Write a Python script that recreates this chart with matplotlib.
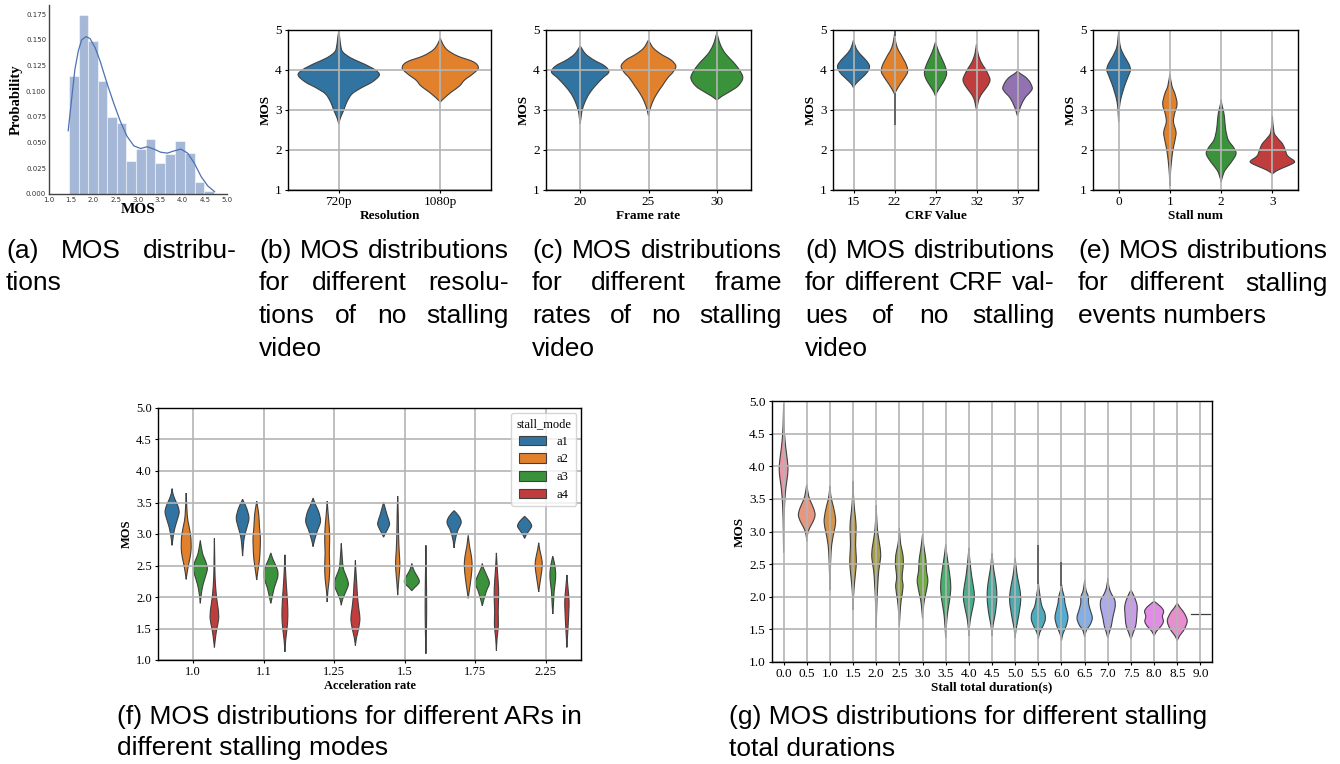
import numpy as np
import matplotlib
matplotlib.use("Agg")
import matplotlib.pyplot as plt
from matplotlib.path import Path
from matplotlib.patches import PathPatch, Patch
from matplotlib.transforms import IdentityTransform
import seaborn as sns

# ---------------- data ----------------
# (a) histogram of MOS
a_bin_edges = [1.446, 1.665, 1.876, 2.095, 2.31, 2.52, 2.74, 2.96, 3.17, 3.39,
               3.61, 3.83, 4.05, 4.27, 4.49, 4.70]
a_probability = [0.1144, 0.1747, 0.1493, 0.1102, 0.0746, 0.0691, 0.0323, 0.0440,
                 0.0535, 0.0300, 0.0388, 0.0515, 0.0401, 0.0117, 0.0029]
a_kde_x = [1.431, 1.507, 1.582, 1.658, 1.733, 1.832, 1.922, 2.036, 2.149, 2.30,
           2.452, 2.603, 2.754, 2.906, 3.057, 3.208, 3.359, 3.509, 3.66, 3.813,
           3.964, 4.115, 4.266, 4.418, 4.569, 4.72]
a_kde_y = [0.0616, 0.0919, 0.1213, 0.1392, 0.150, 0.1532, 0.1513, 0.1425, 0.1294,
           0.1082, 0.0887, 0.0707, 0.0561, 0.0469, 0.0443, 0.046, 0.0437, 0.0407,
           0.0398, 0.042, 0.0437, 0.0398, 0.030, 0.017, 0.0078, 0.0023]

# violin outlines: MOS levels (y) and half-widths (w, category units)
b_categories = ["720p", "1080p"]
b_violin_y = [[2.65, 2.8, 3.0, 3.2, 3.4, 3.55, 3.7, 3.87, 4.0, 4.15, 4.3, 4.45, 4.6, 4.8, 4.97],
              [3.2, 3.3, 3.45, 3.6, 3.75, 3.9, 4.05, 4.2, 4.35, 4.5, 4.65, 4.8]]
b_violin_w = [[0, 0.016, 0.05, 0.08, 0.13, 0.22, 0.33, 0.40, 0.36, 0.25, 0.12, 0.04, 0.02, 0.01, 0],
              [0, 0.04, 0.11, 0.19, 0.24, 0.32, 0.375, 0.33, 0.17, 0.07, 0.025, 0]]

c_categories = ["20", "25", "30"]
c_violin_y = [[2.65, 2.85, 3.0, 3.2, 3.4, 3.6, 3.8, 3.95, 4.1, 4.25, 4.4, 4.6],
              [2.85, 3.0, 3.2, 3.4, 3.6, 3.8, 3.95, 4.1, 4.25, 4.4, 4.55, 4.75],
              [3.25, 3.35, 3.45, 3.6, 3.8, 4.0, 4.2, 4.4, 4.6, 4.8, 4.95]]
c_violin_w = [[0, 0.015, 0.03, 0.07, 0.13, 0.22, 0.33, 0.42, 0.36, 0.2, 0.08, 0],
              [0, 0.02, 0.06, 0.12, 0.2, 0.28, 0.36, 0.40, 0.33, 0.18, 0.07, 0],
              [0, 0.08, 0.18, 0.31, 0.38, 0.33, 0.24, 0.13, 0.06, 0.02, 0]]

d_categories = ["15", "22", "27", "32", "37"]
d_violin_y = [[3.55, 3.65, 3.8, 3.95, 4.1, 4.25, 4.4, 4.55, 4.75],
              [3.4, 3.5, 3.65, 3.8, 3.95, 4.1, 4.25, 4.4, 4.55, 4.75, 4.9],
              [3.35, 3.45, 3.6, 3.75, 3.9, 4.05, 4.25, 4.45, 4.6, 4.7],
              [3.0, 3.15, 3.3, 3.45, 3.6, 3.75, 3.9, 4.05, 4.2, 4.4, 4.65],
              [2.85, 2.95, 3.1, 3.3, 3.45, 3.55, 3.7, 3.82, 3.9, 3.97]]
d_violin_w = [[0, 0.05, 0.2, 0.34, 0.39, 0.3, 0.16, 0.06, 0],
              [0, 0.05, 0.14, 0.24, 0.32, 0.3, 0.23, 0.15, 0.07, 0.02, 0],
              [0, 0.04, 0.13, 0.22, 0.27, 0.25, 0.17, 0.08, 0.03, 0],
              [0, 0.03, 0.07, 0.16, 0.27, 0.33, 0.28, 0.2, 0.11, 0.04, 0],
              [0, 0.03, 0.08, 0.18, 0.31, 0.36, 0.3, 0.2, 0.08, 0]]
d_whisker = {1: [(2.62, 3.42), (4.85, 5.0)]}

e_categories = ["0", "1", "2", "3"]
e_violin_y = [[2.7, 2.95, 3.2, 3.45, 3.65, 3.85, 4.0, 4.15, 4.35, 4.55, 4.75, 4.95],
              [1.1, 1.4, 1.7, 2.0, 2.25, 2.45, 2.7, 2.9, 3.15, 3.4, 3.6, 3.9],
              [1.2, 1.35, 1.5, 1.7, 1.9, 2.05, 2.25, 2.5, 2.75, 2.95, 3.1, 3.25],
              [1.4, 1.47, 1.55, 1.65, 1.72, 1.85, 2.0, 2.15, 2.3, 2.45, 2.85]]
e_violin_w = [[0, 0.01, 0.03, 0.08, 0.13, 0.19, 0.23, 0.2, 0.11, 0.04, 0.015, 0],
              [0, 0.01, 0.03, 0.06, 0.1, 0.12, 0.07, 0.09, 0.14, 0.1, 0.04, 0],
              [0, 0.03, 0.08, 0.2, 0.29, 0.25, 0.14, 0.09, 0.07, 0.05, 0.02, 0],
              [0, 0.07, 0.2, 0.38, 0.43, 0.3, 0.25, 0.2, 0.1, 0.03, 0]]

f_categories = ["1.0", "1.1", "1.25", "1.5", "1.75", "2.25"]
f_hues = ["a1", "a2", "a3", "a4"]
f_violin_y = [
    [[2.82, 2.95, 3.1, 3.25, 3.35, 3.45, 3.55, 3.65, 3.72],
     [2.28, 2.4, 2.55, 2.7, 2.85, 3.0, 3.15, 3.3, 3.65],
     [1.9, 2.05, 2.2, 2.35, 2.45, 2.55, 2.7, 2.9],
     [1.2, 1.35, 1.5, 1.65, 1.8, 2.0, 2.3, 2.6, 2.93]],
    [[2.65, 2.8, 2.95, 3.1, 3.25, 3.4, 3.5, 3.55],
     [2.27, 2.4, 2.6, 2.8, 2.95, 3.1, 3.3, 3.45, 3.52],
     [1.9, 2.0, 2.15, 2.3, 2.4, 2.5, 2.6, 2.7],
     [1.13, 1.3, 1.5, 1.7, 1.95, 2.2, 2.45, 2.67]],
    [[2.8, 2.9, 3.05, 3.2, 3.35, 3.45, 3.57],
     [1.92, 2.1, 2.3, 2.5, 2.7, 2.9, 3.1, 3.3, 3.52],
     [1.87, 1.97, 2.1, 2.2, 2.3, 2.45, 2.6, 2.85],
     [1.23, 1.35, 1.5, 1.65, 1.8, 2.0, 2.2, 2.4, 2.58]],
    [[2.95, 3.02, 3.12, 3.18, 3.3, 3.42, 3.5],
     [2.03, 2.2, 2.4, 2.55, 2.75, 3.0, 3.3, 3.6],
     [2.1, 2.15, 2.22, 2.28, 2.38, 2.45, 2.53],
     [1.1, 1.4, 1.7, 2.0, 2.3, 2.6, 2.82]],
    [[2.78, 2.9, 3.05, 3.18, 3.28, 3.37],
     [1.98, 2.1, 2.3, 2.5, 2.65, 2.8, 2.98],
     [1.86, 1.95, 2.1, 2.22, 2.35, 2.45, 2.53],
     [1.15, 1.35, 1.55, 1.75, 1.95, 2.15, 2.4, 2.7]],
    [[2.93, 3.0, 3.08, 3.13, 3.2, 3.28],
     [2.08, 2.2, 2.35, 2.5, 2.62, 2.75, 2.86],
     [1.73, 1.9, 2.1, 2.3, 2.45, 2.55, 2.65],
     [1.2, 1.4, 1.6, 1.8, 1.95, 2.15, 2.35]],
]
f_violin_w = [
    [[0, 0.015, 0.04, 0.08, 0.1, 0.08, 0.04, 0.01, 0],
     [0, 0.015, 0.04, 0.065, 0.07, 0.06, 0.035, 0.015, 0],
     [0, 0.015, 0.04, 0.08, 0.1, 0.08, 0.03, 0],
     [0, 0.015, 0.035, 0.06, 0.055, 0.03, 0.01, 0.005, 0]],
    [[0, 0.01, 0.025, 0.06, 0.09, 0.06, 0.02, 0],
     [0, 0.015, 0.04, 0.05, 0.052, 0.04, 0.03, 0.01, 0],
     [0, 0.02, 0.05, 0.095, 0.1, 0.07, 0.03, 0],
     [0, 0.01, 0.03, 0.042, 0.035, 0.02, 0.008, 0]],
    [[0, 0.02, 0.06, 0.105, 0.08, 0.04, 0],
     [0, 0.01, 0.03, 0.035, 0.03, 0.035, 0.03, 0.015, 0],
     [0, 0.02, 0.07, 0.1, 0.08, 0.03, 0.015, 0],
     [0, 0.015, 0.045, 0.064, 0.05, 0.03, 0.02, 0.008, 0]],
    [[0, 0.03, 0.075, 0.083, 0.05, 0.02, 0],
     [0, 0.01, 0.025, 0.03, 0.02, 0.012, 0.008, 0],
     [0, 0.04, 0.1, 0.1, 0.05, 0.02, 0],
     [0, 0.006, 0.01, 0.01, 0.007, 0.003, 0]],
    [[0, 0.015, 0.05, 0.1, 0.07, 0],
     [0, 0.015, 0.04, 0.055, 0.045, 0.02, 0],
     [0, 0.02, 0.06, 0.1, 0.06, 0.02, 0],
     [0, 0.01, 0.028, 0.025, 0.03, 0.03, 0.015, 0]],
    [[0, 0.03, 0.08, 0.1, 0.07, 0],
     [0, 0.015, 0.035, 0.05, 0.04, 0.015, 0],
     [0, 0.01, 0.02, 0.04, 0.035, 0.02, 0],
     [0, 0.01, 0.02, 0.028, 0.03, 0.015, 0]],
]

g_categories = ["0.0", "0.5", "1.0", "1.5", "2.0", "2.5", "3.0", "3.5", "4.0", "4.5",
                "5.0", "5.5", "6.0", "6.5", "7.0", "7.5", "8.0", "8.5", "9.0"]
g_violin_y = [
    [2.68, 3.0, 3.3, 3.6, 3.8, 3.95, 4.1, 4.3, 4.5, 4.7, 4.95],
    [2.85, 2.95, 3.05, 3.15, 3.25, 3.35, 3.45, 3.55, 3.72],
    [2.1, 2.4, 2.6, 2.8, 3.0, 3.15, 3.3, 3.45, 3.55, 3.7],
    [1.8, 2.0, 2.2, 2.45, 2.6, 2.8, 3.0, 3.15, 3.35, 3.55, 3.77],
    [1.5, 1.8, 2.0, 2.2, 2.4, 2.6, 2.75, 2.95, 3.15, 3.4],
    [1.55, 1.75, 1.95, 2.15, 2.3, 2.5, 2.65, 2.8, 2.95, 3.05],
    [1.67, 1.8, 1.95, 2.1, 2.25, 2.4, 2.55, 2.7, 2.85, 2.95],
    [1.37, 1.55, 1.75, 1.95, 2.15, 2.35, 2.55, 2.7, 2.8],
    [1.4, 1.55, 1.7, 1.85, 2.0, 2.15, 2.3, 2.5, 2.65, 2.75],
    [1.4, 1.55, 1.7, 1.85, 2.0, 2.15, 2.3, 2.45, 2.6, 2.67],
    [1.37, 1.5, 1.65, 1.8, 1.95, 2.1, 2.25, 2.4, 2.6],
    [1.35, 1.45, 1.55, 1.65, 1.75, 1.85, 1.95, 2.05, 2.15, 2.25],
    [1.33, 1.43, 1.55, 1.68, 1.8, 1.9, 2.0, 2.1, 2.2],
    [1.38, 1.48, 1.58, 1.68, 1.8, 1.9, 2.0, 2.1, 2.25],
    [1.37, 1.45, 1.55, 1.65, 1.75, 1.85, 1.95, 2.05, 2.15, 2.28],
    [1.35, 1.45, 1.55, 1.65, 1.75, 1.85, 1.95, 2.05, 2.1],
    [1.4, 1.47, 1.55, 1.62, 1.7, 1.78, 1.85, 1.93],
    [1.33, 1.4, 1.5, 1.63, 1.75, 1.82, 1.9],
    None,
]
g_violin_w = [
    [0, 0.01, 0.03, 0.08, 0.15, 0.19, 0.16, 0.09, 0.04, 0.015, 0],
    [0, 0.03, 0.12, 0.27, 0.36, 0.3, 0.18, 0.08, 0],
    [0, 0.02, 0.04, 0.08, 0.18, 0.25, 0.2, 0.1, 0.04, 0],
    [0, 0.02, 0.06, 0.13, 0.14, 0.11, 0.13, 0.12, 0.06, 0.02, 0],
    [0, 0.02, 0.04, 0.07, 0.11, 0.19, 0.17, 0.08, 0.03, 0],
    [0, 0.03, 0.08, 0.16, 0.12, 0.17, 0.15, 0.06, 0.02, 0],
    [0, 0.03, 0.08, 0.17, 0.23, 0.17, 0.15, 0.09, 0.03, 0],
    [0, 0.03, 0.08, 0.17, 0.22, 0.17, 0.09, 0.03, 0],
    [0, 0.03, 0.09, 0.18, 0.24, 0.2, 0.13, 0.06, 0.02, 0],
    [0, 0.04, 0.12, 0.18, 0.21, 0.19, 0.13, 0.06, 0.02, 0],
    [0, 0.04, 0.12, 0.19, 0.24, 0.21, 0.13, 0.06, 0],
    [0, 0.06, 0.2, 0.3, 0.28, 0.16, 0.1, 0.06, 0.02, 0],
    [0, 0.06, 0.2, 0.28, 0.22, 0.15, 0.12, 0.04, 0],
    [0, 0.07, 0.25, 0.33, 0.24, 0.17, 0.16, 0.06, 0],
    [0, 0.06, 0.15, 0.2, 0.26, 0.32, 0.3, 0.15, 0.05, 0],
    [0, 0.1, 0.2, 0.24, 0.26, 0.27, 0.2, 0.08, 0],
    [0, 0.1, 0.3, 0.4, 0.36, 0.41, 0.28, 0],
    [0, 0.1, 0.3, 0.43, 0.3, 0.15, 0],
    None,
]
g_single_value = {18: 1.73}
g_whisker = {11: [(2.2, 2.8)], 12: [(2.17, 2.53)]}

captions_top = [
    ["(a) MOS distribu-", "tions"],
    ["(b) MOS distributions", "for different resolu-", "tions of no stalling", "video"],
    ["(c) MOS distributions", "for different frame", "rates of no stalling", "video"],
    ["(d) MOS distributions", "for different CRF val-", "ues of no stalling", "video"],
    ["(e) MOS distributions", "for different stalling", "events numbers"],
]
captions_bottom = [
    ["(f) MOS distributions for different ARs in", "different stalling modes"],
    ["(g) MOS distributions for different stalling", "total durations"],
]

# ---------------- style ----------------
plt.rcParams["font.family"] = ["Liberation Serif", "DejaVu Serif"]
W, H = 1340, 764
fig = plt.figure(figsize=(W / 100, H / 100), dpi=100)
fig.patch.set_facecolor("white")

EDGE = "#404040"
GRID = "#b4b4b4"
tab = ["#1f77b4", "#ff7f0e", "#2ca02c", "#d62728", "#9467bd"]
cat_colors = [sns.desaturate(c, 0.75) for c in tab]
g_colors = [sns.desaturate(c, 0.75) for c in sns.husl_palette(len(g_categories), l=.7)]


def add_ax(l, t, r, b):
    return fig.add_axes([l / W, 1 - b / H, (r - l) / W, (b - t) / H])


def side_curve(pts):
    pts = np.asarray(pts, float)
    n = len(pts)
    out = []
    for i in range(n - 1):
        p0 = pts[i - 1] if i > 0 else pts[i]
        p1, p2 = pts[i], pts[i + 1]
        p3 = pts[i + 2] if i + 2 < n else pts[i + 1]
        out += [p1 + (p2 - p0) / 6.0, p2 - (p3 - p1) / 6.0, p2]
    return out


def draw_violin(ax, center, ys, ws, color, lw=0.8):
    right = [(center + w, y) for y, w in zip(ys, ws)]
    left = [(center - w, y) for y, w in zip(ys, ws)][::-1]
    verts = [right[0]] + side_curve(right) + side_curve(left) + [right[0]]
    codes = [Path.MOVETO] + [Path.CURVE4] * (len(verts) - 2) + [Path.CLOSEPOLY]
    ax.add_patch(PathPatch(Path(verts, codes), facecolor=color, edgecolor=EDGE,
                           lw=lw, zorder=1))


def draw_whiskers(ax, whisk):
    for i, segs in whisk.items():
        for lo, hi in segs:
            ax.plot([i, i], [lo, hi], color="#555555", lw=1.2, zorder=3,
                    solid_capstyle="butt")


def style_violin_axes(ax, cats, ylim, yticks, ylabels, xlabel, fs, lfs):
    ax.set_xlim(-0.5, len(cats) - 0.5)
    ax.set_ylim(*ylim)
    ax.set_xticks(range(len(cats)))
    ax.set_xticklabels(cats, fontsize=fs)
    ax.set_yticks(yticks)
    ax.set_yticklabels(ylabels, fontsize=fs)
    ax.set_xlabel(xlabel, fontsize=lfs, fontweight="bold", labelpad=1)
    ax.set_ylabel("MOS", fontsize=lfs, fontweight="bold", labelpad=2)
    ax.grid(True, color=GRID, lw=1.2)
    ax.set_axisbelow(False)
    for s in ax.spines.values():
        s.set_color("black")
        s.set_linewidth(1.0)
        s.set_zorder(4)
    ax.tick_params(length=2.5, width=0.8, pad=2)


# ---------------- (a) ----------------
ax = add_ax(49, 5, 227, 194)
edges = np.array(a_bin_edges)
ax.bar(edges[:-1], a_probability, width=np.diff(edges), align="edge",
       color="#4c72b0", alpha=0.5, edgecolor="white", linewidth=0.8)
ax.plot(a_kde_x, a_kde_y, color="#4c72b0", lw=0.9)
ax.set_xlim(1.0, 5.0)
ax.set_ylim(0, 0.184)
ax.set_xticks([1.0, 1.5, 2.0, 2.5, 3.0, 3.5, 4.0, 4.5, 5.0])
ax.set_yticks([0, 0.025, 0.05, 0.075, 0.1, 0.125, 0.15, 0.175])
ax.set_yticklabels([f"{v:.3f}" for v in ax.get_yticks()])
for lab in ax.get_xticklabels() + ax.get_yticklabels():
    lab.set_fontfamily("DejaVu Sans")
    lab.set_fontsize(5)
    lab.set_color("#333333")
ax.tick_params(length=0, pad=2)
ax.spines["top"].set_visible(False)
ax.spines["right"].set_visible(False)
for s in ("left", "bottom"):
    ax.spines[s].set_color("#444444")
    ax.spines[s].set_linewidth(1.0)
ax.set_xlabel("MOS", fontsize=11, fontweight="bold", labelpad=0)
ax.set_ylabel("Probability", fontsize=10.5, fontweight="bold", labelpad=2)

# ---------------- (b)-(e) ----------------
int_ticks = [1, 2, 3, 4, 5]
panels = [
    ((288, 30, 491, 190), b_categories, b_violin_y, b_violin_w, "Resolution", {}),
    ((546, 30, 751, 190), c_categories, c_violin_y, c_violin_w, "Frame rate", {}),
    ((833, 30, 1038, 190), d_categories, d_violin_y, d_violin_w, "CRF Value", d_whisker),
    ((1093, 30, 1298, 190), e_categories, e_violin_y, e_violin_w, "Stall num", {}),
]
for box, cats, vy, vw, xl, whisk in panels:
    ax = add_ax(*box)
    for i, (ys, ws) in enumerate(zip(vy, vw)):
        draw_violin(ax, i, ys, ws, cat_colors[i % len(cat_colors)])
    draw_whiskers(ax, whisk)
    style_violin_axes(ax, cats, (1, 5), int_ticks, [str(t) for t in int_ticks],
                      xl, 9.5, 9.5)

# ---------------- (f) ----------------
ax = add_ax(158, 408, 581, 660)
offsets = [-0.3, -0.1, 0.1, 0.3]
for i in range(len(f_categories)):
    for h in range(len(f_hues)):
        draw_violin(ax, i + offsets[h], f_violin_y[i][h], f_violin_w[i][h],
                    cat_colors[h])
half_ticks = [1.0, 1.5, 2.0, 2.5, 3.0, 3.5, 4.0, 4.5, 5.0]
style_violin_axes(ax, f_categories, (1, 5), half_ticks,
                  [f"{t:.1f}" for t in half_ticks], "Acceleration rate", 9, 9)
handles = [Patch(facecolor=cat_colors[h], edgecolor=EDGE, lw=0.8, label=f_hues[h])
           for h in range(len(f_hues))]
leg = ax.legend(handles=handles, title="stall_mode", loc="upper right", fontsize=9,
                title_fontsize=9, frameon=True, borderaxespad=0.4, handlelength=2.2,
                handleheight=0.8, labelspacing=0.45)
leg.get_frame().set_edgecolor("#cccccc")
leg.set_zorder(5)

# ---------------- (g) ----------------
ax = add_ax(772, 401, 1212, 662)
for i in range(len(g_categories)):
    if g_violin_y[i] is not None:
        draw_violin(ax, i, g_violin_y[i], g_violin_w[i], g_colors[i])
for i, v in g_single_value.items():
    ax.plot([i - 0.42, i + 0.42], [v, v], color=EDGE, lw=0.9, zorder=1)
draw_whiskers(ax, g_whisker)
style_violin_axes(ax, g_categories, (1, 5), half_ticks,
                  [f"{t:.1f}" for t in half_ticks], "Stall total duration(s)", 9.5, 9.5)

# ---------------- captions ----------------
renderer = fig.canvas.get_renderer()
CAP = dict(family=["Liberation Sans", "DejaVu Sans"], fontsize=19, color="black")
ident = IdentityTransform()


def caption_block(lines, left, right, base0, step, justify=True):
    for k, line in enumerate(lines):
        y = H - (base0 + k * step)
        words = line.split()
        if (not justify) or k == len(lines) - 1 or len(words) == 1:
            fig.text(left, y, line, transform=ident, va="baseline", ha="left", **CAP)
            continue
        texts = [fig.text(0, y, w, transform=ident, va="baseline", ha="left", **CAP)
                 for w in words]
        widths = [t.get_window_extent(renderer).width for t in texts]
        gap = (right - left - sum(widths)) / (len(words) - 1)
        x = left
        for t, wd in zip(texts, widths):
            t.set_x(x)
            x += wd + gap


top_cols = [(6, 237), (259, 509), (532, 782), (805, 1055), (1078, 1328)]
for lines, (l, r) in zip(captions_top, top_cols):
    caption_block(lines, l, r, 258, 32.5)
caption_block(captions_bottom[0], 117, 600, 724, 31.5, justify=False)
caption_block(captions_bottom[1], 729, 1240, 724, 31.5, justify=False)

fig.savefig("out.png", dpi=100)
